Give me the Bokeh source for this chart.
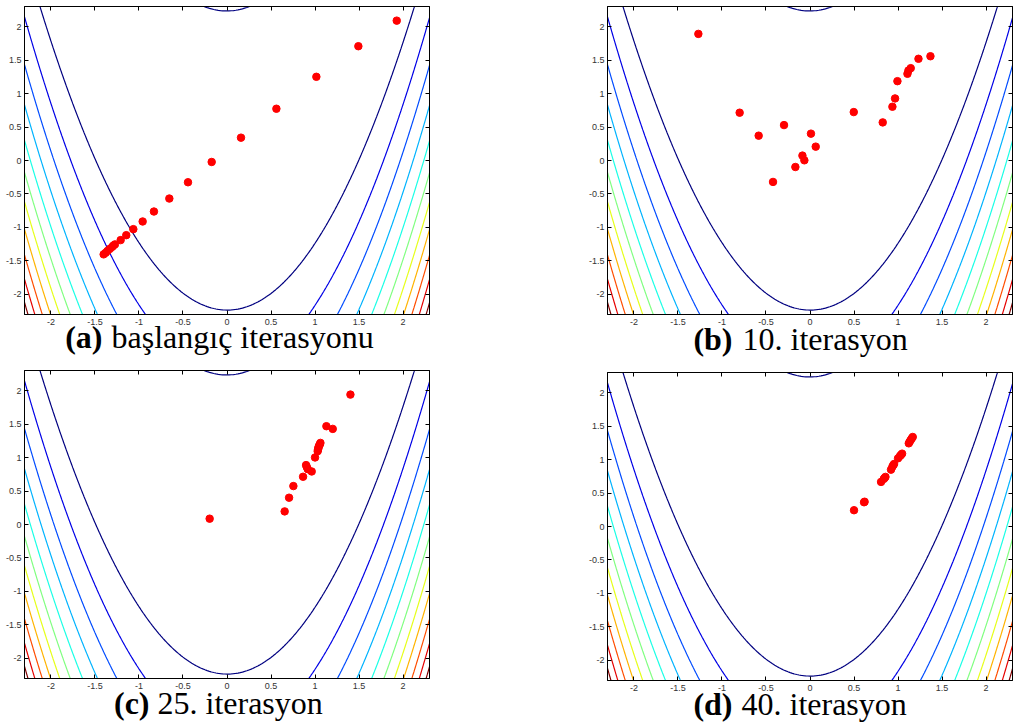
import numpy as np
from bokeh.plotting import figure
from bokeh.models import Range1d, FixedTicker, LinearAxis
from bokeh.core.properties import value
from bokeh.layouts import column, row
from bokeh.embed import file_html
from bokeh.resources import INLINE

# Contour levels of the Rosenbrock surface and their jet colours
LEVELS = [500, 1000, 1500, 2000, 2500, 3000, 3500, 4000, 4500, 5000, 5500]
LEVEL_COLORS = ["#000080", "#0000e6", "#004cff", "#00b3ff", "#1affe6", "#80ff80",
                "#e6ff1a", "#ffb300", "#ff4d00", "#e60000", "#800000"]

TICKS = [-2.0, -1.5, -1.0, -0.5, 0.0, 0.5, 1.0, 1.5, 2.0]
TICK_LABELS = ["-2", "-1.5", "-1", "-0.5", "0", "0.5", "1", "1.5", "2"]
LIMITS = (-2.3, 2.3)

# Particle positions: initial swarm
A_X = [1.928, 1.492, 1.015, 0.561, 0.159, -0.174, -0.443, -0.655, -0.830, -0.958,
       -1.064, -1.144, -1.208, -1.273, -1.290, -1.303, -1.330, -1.356, -1.378, -1.401]
A_Y = [2.089, 1.707, 1.250, 0.773, 0.341, -0.022, -0.325, -0.568, -0.762, -0.911,
       -1.025, -1.115, -1.189, -1.253, -1.270, -1.289, -1.319, -1.349, -1.378, -1.402]

# after 10 iterations
B_X = [-1.268, -0.799, -0.583, -0.295, -0.420, -0.166, -0.086, -0.064, 0.011, 0.065,
       0.497, 0.826, 0.936, 0.966, 0.993, 1.107, 1.118, 1.144, 1.232, 1.368]
B_Y = [1.891, 0.714, 0.371, 0.529, -0.320, -0.097, 0.073, 0.003, 0.401, 0.207,
       0.723, 0.569, 0.803, 0.927, 1.185, 1.295, 1.344, 1.379, 1.519, 1.557]

# after 25 iterations
C_X = [1.402, 1.129, 1.201, 1.061, 1.049, 1.038, 1.030, 1.000, 0.898, 0.917,
       0.962, 0.864, 0.754, 0.705, 0.655, -0.197, 1.055, 1.043, 1.034, 0.907]
C_Y = [1.940, 1.468, 1.428, 1.219, 1.185, 1.145, 1.095, 1.001, 0.887, 0.827,
       0.792, 0.713, 0.574, 0.400, 0.196, 0.087, 1.200, 1.165, 1.120, 0.857]

# after 40 iterations
D_X = [1.167, 1.144, 1.122, 1.046, 1.023, 1.000, 0.955, 0.936, 0.920, 0.857,
       0.838, 0.807, 0.614, 0.500, 1.155, 1.133, 1.035, 0.945, 0.847, 0.620]
D_Y = [1.337, 1.292, 1.242, 1.088, 1.054, 1.018, 0.934, 0.894, 0.849, 0.741,
       0.711, 0.666, 0.362, 0.243, 1.315, 1.268, 1.071, 0.914, 0.726, 0.370]

CAPTION_TAGS = ["(a)", "(b)", "(c)", "(d)"]
CAPTION_TEXTS = ["başlangıç iterasyonu", "10. iterasyon", "25. iterasyon", "40. iterasyon"]

# Function surface on a regular grid
gx = np.linspace(LIMITS[0], LIMITS[1], 185)
gy = np.linspace(LIMITS[0], LIMITS[1], 185)
GX, GY = np.meshgrid(gx, gy)
Z = 100.0 * (GY - GX ** 2) ** 2 + (1.0 - GX) ** 2

FRAME_W, FRAME_H = 405, 308
SPAN = LIMITS[1] - LIMITS[0]
TICK_FONT = "Liberation Sans"
TICK_SIZE = "9px"
TICK_COLOR = "#333333"


def frame_x(dx):
    """Data x for a pixel offset from the frame's left edge."""
    return LIMITS[0] + dx / FRAME_W * SPAN


def contour_panel(xs, ys, left, right, top):
    p = figure(frame_width=FRAME_W, frame_height=FRAME_H,
               x_range=Range1d(*LIMITS), y_range=Range1d(*LIMITS),
               x_axis_type=None, y_axis_type=None,
               output_backend="svg", toolbar_location=None,
               min_border_left=left, min_border_right=right,
               min_border_top=top, min_border_bottom=2)
    p.outline_line_color = "black"
    p.outline_line_width = 1
    p.background_fill_color = "white"
    p.border_fill_color = "white"

    p.contour(gx, gy, Z, levels=LEVELS, line_color=LEVEL_COLORS, line_width=1.2)
    p.scatter(xs, ys, size=7.5, color="#ff0000", line_color="#ff0000")

    # box with inward ticks on all four sides; only the left side is labelled here
    for place in ("below", "left", "above", "right"):
        ax = LinearAxis(ticker=FixedTicker(ticks=TICKS),
                        major_tick_in=4, major_tick_out=0,
                        minor_tick_line_color=None,
                        axis_line_color="black", major_tick_line_color="black")
        if place == "left":
            ax.major_label_overrides = dict(zip(TICKS, TICK_LABELS))
            ax.major_label_text_font = TICK_FONT
            ax.major_label_text_font_size = TICK_SIZE
            ax.major_label_text_color = TICK_COLOR
            ax.major_label_standoff = 3
        else:
            ax.major_label_overrides = {t: "" for t in TICKS}
            ax.major_label_text_font_size = "0px"
            ax.major_label_standoff = 0
        p.add_layout(ax, place)
    return p


def caption_strip(tag, text, tag_right, text_left, baseline, height, left, right):
    """x tick labels and the caption, on the same x scale as the panel above."""
    c = figure(frame_width=FRAME_W, frame_height=height,
               x_range=Range1d(*LIMITS), y_range=Range1d(height, 0),
               x_axis_type=None, y_axis_type=None,
               output_backend="svg", toolbar_location=None,
               min_border_left=left, min_border_right=right,
               min_border_top=0, min_border_bottom=0)
    c.outline_line_color = None
    c.background_fill_color = "white"
    c.border_fill_color = "white"
    c.text(x=TICKS, y=[2] * len(TICKS), text=TICK_LABELS,
           text_font=value(TICK_FONT), text_font_size=TICK_SIZE,
           text_color=TICK_COLOR, text_align="center", text_baseline="top")
    c.text(x=[frame_x(tag_right)], y=[baseline], text=[tag],
           text_font=value("Liberation Serif"), text_font_size="32px",
           text_font_style="bold", text_align="right",
           text_baseline="alphabetic", text_color="black")
    c.text(x=[frame_x(text_left)], y=[baseline], text=[text],
           text_font=value("Liberation Serif"), text_font_size="32px",
           text_align="left", text_baseline="alphabetic", text_color="black")
    return c


pa = contour_panel(A_X, A_Y, 24, 81, 6)
pb = contour_panel(B_X, B_Y, 97, 8, 6)
pc = contour_panel(C_X, C_Y, 24, 81, 10)
pd = contour_panel(D_X, D_Y, 97, 8, 12)

ca = caption_strip(CAPTION_TAGS[0], CAPTION_TEXTS[0], 78, 87, 20, 44, 24, 81)
cb = caption_strip(CAPTION_TAGS[1], CAPTION_TEXTS[1], 125, 135, 22, 44, 97, 8)
cc = caption_strip(CAPTION_TAGS[2], CAPTION_TEXTS[2], 125, 133, 22, 44, 24, 81)
cd = caption_strip(CAPTION_TAGS[3], CAPTION_TEXTS[3], 125, 134, 21, 42, 97, 8)

layout = column(row(column(pa, ca), column(pb, cb)),
                row(column(pc, cc), column(pd, cd)))

with open("out.html", "w") as f:
    f.write(file_html(layout, INLINE))
